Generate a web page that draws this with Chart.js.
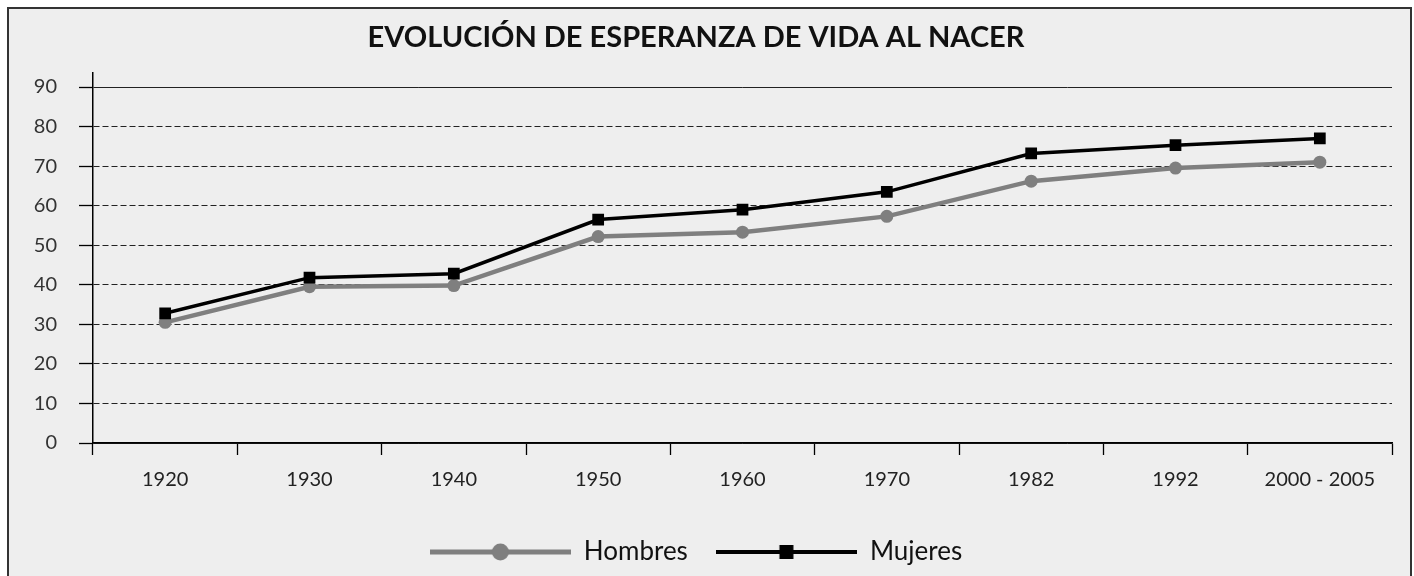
<!DOCTYPE html>
<html><head><meta charset="utf-8">
<script src="https://cdn.jsdelivr.net/npm/chart.js@4.4.1/dist/chart.umd.min.js"></script>
<style>html,body{margin:0;padding:0;background:#fff;}canvas{display:block;}</style>
</head><body>
<canvas id="c" width="1414" height="576"></canvas>
<script>
const categories = ['1920', '1930', '1940', '1950', '1960', '1970', '1982', '1992', '2000 - 2005'];
const hombres = [30.5, 39.5, 39.8, 52.2, 53.3, 57.3, 66.2, 69.5, 71.0];
const mujeres = [32.8, 41.8, 42.8, 56.5, 59.0, 63.5, 73.2, 75.3, 77.0];
const yTickValues = [0, 10, 20, 30, 40, 50, 60, 70, 80, 90];
const seriesNames = ['Hombres', 'Mujeres'];
const titleText = 'EVOLUCIÓN DE ESPERANZA DE VIDA AL NACER';

const FONT = 'Lato, "Open Sans", sans-serif';
const GRAY = '#7f7f7f';

function legendIcon(color, lw, shape) {
  const c = document.createElement('canvas');
  c.width = 141; c.height = 20;
  const g = c.getContext('2d');
  g.strokeStyle = color; g.lineWidth = lw;
  g.beginPath(); g.moveTo(0, 10); g.lineTo(141, 10); g.stroke();
  g.fillStyle = color;
  if (shape === 'circle') { g.beginPath(); g.arc(70.5, 10, 8.5, 0, Math.PI * 2); g.fill(); }
  else { g.fillRect(63.5, 3, 14, 14); }
  return c;
}
const icons = [legendIcon(GRAY, 5, 'circle'), legendIcon('#000', 4, 'rect')];

const framePlugin = {
  id: 'frame',
  beforeDraw(chart) {
    const ctx = chart.ctx;
    ctx.save();
    ctx.fillStyle = '#ffffff';
    ctx.fillRect(0, 0, chart.width, chart.height);
    ctx.fillStyle = '#eeeeee';
    ctx.fillRect(8, 8, 1403, 600);
    ctx.strokeStyle = '#333333';
    ctx.lineWidth = 2;
    ctx.strokeRect(8, 8, 1403, 600);
    ctx.restore();
  }
};

new Chart(document.getElementById('c'), {
  type: 'line',
  data: {
    labels: categories,
    datasets: [
      {
        label: seriesNames[0], data: hombres, order: 1,
        borderColor: GRAY, backgroundColor: GRAY, borderWidth: 4.5,
        pointStyle: 'circle', pointRadius: 6.5, pointBorderWidth: 0,
        pointBackgroundColor: GRAY, tension: 0
      },
      {
        label: seriesNames[1], data: mujeres, order: 0,
        borderColor: '#000', backgroundColor: '#000', borderWidth: 3.5,
        pointStyle: 'rect', pointRadius: 8.3, pointBorderWidth: 0,
        pointBackgroundColor: '#000', tension: 0
      }
    ]
  },
  options: {
    responsive: false,
    animation: false,
    layout: { padding: { left: 0, right: 22, top: 0, bottom: 1 } },
    plugins: {
      tooltip: { enabled: false },
      title: {
        display: true, text: titleText, color: '#111',
        font: { family: FONT, size: 29, weight: 'bold' },
        padding: { top: 20, bottom: 18 }
      },
      legend: {
        display: true, position: 'bottom',
        labels: {
          usePointStyle: true, pointStyleWidth: 141, padding: 28,
          color: '#111', font: { family: FONT, size: 26 },
          generateLabels(chart) {
            return chart.data.datasets.map((ds, i) => ({
              text: ds.label, pointStyle: icons[i], datasetIndex: i,
              fillStyle: ds.borderColor, strokeStyle: ds.borderColor, lineWidth: 0,
              fontColor: '#111', hidden: false
            }));
          }
        }
      }
    },
    scales: {
      x: {
        type: 'category', offset: true,
        grid: { display: true, offset: true, drawOnChartArea: false, drawTicks: true, tickLength: 12, tickColor: '#000', tickWidth: 1.3 },
        border: { display: true, color: '#000', width: 1.5 },
        ticks: { color: '#222', font: { family: FONT, size: 20 }, padding: 13, maxRotation: 0, autoSkip: false },
        afterFit(s) { s.height = 68; }
      },
      y: {
        type: 'linear', min: 0, max: 93.6,
        afterBuildTicks(s) { s.ticks = yTickValues.map(v => ({ value: v })); },
        grid: {
          color: '#222', lineWidth: 1, tickLength: 14, tickColor: '#000', tickWidth: 1.3,
        },
        border: {
          display: true, color: '#000', width: 1.5,
          dash: (ctx) => (ctx.tick && ctx.tick.value > 0 && ctx.tick.value < 90) ? [6, 3] : []
        },
        ticks: { color: '#333', font: { family: FONT, size: 20 }, padding: 22 },
        afterFit(s) { s.width = 93; s.paddingTop = 0; s.paddingBottom = 0; }
      }
    }
  },
  plugins: [framePlugin]
});
</script>
</body></html>
